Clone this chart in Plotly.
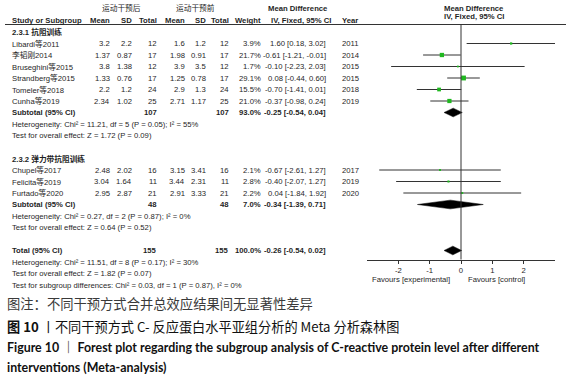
import plotly.graph_objects as go

# ---------------- data ----------------
study = ["Libardi等2011", "李韬刚2014", "Bruseghini等2015", "Strandberg等2015",
         "Tomeler等2018", "Cunha等2019", "Chupel等2017", "Felicita等2019", "Furtado等2020"]
group = [0, 0, 0, 0, 0, 0, 1, 1, 1]
exp_mean = [3.2, 1.37, 3.8, 1.33, 2.2, 2.34, 2.48, 3.04, 2.95]
exp_sd = [2.2, 0.87, 1.38, 0.76, 1.2, 1.02, 2.02, 1.64, 2.87]
exp_n = [12, 17, 12, 17, 24, 25, 16, 11, 21]
ctl_mean = [1.6, 1.98, 3.9, 1.25, 2.9, 2.71, 3.15, 3.44, 2.91]
ctl_sd = [1.2, 0.91, 3.5, 0.78, 1.3, 1.17, 3.41, 2.31, 3.33]
ctl_n = [12, 17, 12, 17, 24, 25, 16, 11, 21]
weight = [3.9, 21.7, 1.7, 29.1, 15.5, 21.0, 2.1, 2.8, 2.2]
md = [1.60, -0.61, -0.10, 0.08, -0.70, -0.37, -0.67, -0.40, 0.04]
ci_lo = [0.18, -1.21, -2.23, -0.44, -1.41, -0.98, -2.61, -2.07, -1.84]
ci_hi = [3.02, -0.01, 2.03, 0.60, 0.01, 0.24, 1.27, 1.27, 1.92]
year = [2011, 2014, 2015, 2015, 2018, 2019, 2017, 2019, 2020]

sub_names = ["2.3.1 抗阻训练", "2.3.2 弹力带抗阻训练"]
sub_n_exp = [107, 48]
sub_n_ctl = [107, 48]
sub_weight = [93.0, 7.0]
sub_md = [-0.25, -0.34]
sub_lo = [-0.54, -1.39]
sub_hi = [0.04, 0.71]
sub_het = ["Heterogeneity: Chi² = 11.21, df = 5 (P = 0.05); I² = 55%",
           "Heterogeneity: Chi² = 0.27, df = 2 (P = 0.87); I² = 0%"]
sub_test = ["Test for overall effect: Z = 1.72 (P = 0.09)",
            "Test for overall effect: Z = 0.64 (P = 0.52)"]

tot_n_exp = 155
tot_n_ctl = 155
tot_weight = 100.0
tot_md = -0.26
tot_lo = -0.54
tot_hi = 0.02
tot_het = "Heterogeneity: Chi² = 11.51, df = 8 (P = 0.17); I² = 30%"
tot_test = "Test for overall effect: Z = 1.82 (P = 0.07)"
subgroup_test = "Test for subgroup differences: Chi² = 0.03, df = 1 (P = 0.87), I² = 0%"

tick_vals = [-2, -1, 0, 1, 2]
tick_text = ["-2", "-1", "0", "1", "2"]

caption_note = "图注：不同干预方式合并总效应结果间无显著性差异"
caption_cn = "<b>图 10</b> 丨不同干预方式 C- 反应蛋白水平亚组分析的 Meta 分析森林图"
caption_en1 = "<b>Figure 10 ｜ Forest plot regarding the subgroup analysis of C-reactive protein level after different</b>"
caption_en2 = "<b>interventions (Meta-analysis)</b>"

# ---------------- layout constants ----------------
W, H = 567, 380
ROW0_PX = 32.0      # pixel centre of first table row
ROW_H = 11.5        # pixel height of a table row
FS = 7.7
FONT = "Liberation Sans, Arial, Noto Sans CJK SC, sans-serif"
TXT = "#1f1f1f"
GREEN = "#1fb81f"
LINE = "#333333"
PLOT_X0, PLOT_X1 = 367, 555
AXIS_PX = 259.5
HEADER_LINE_PX = 24.5
DIAMOND_HALF = 0.38

def row_of_px(p):
    return (p - ROW0_PX) / ROW_H

def px(x):
    return x / W

COL = dict(study=11, m1=111, sd1=133, n1=158, m2=186, sd2=207, n2=230,
           w=262, ci=327, year=341)

annotations = []

def txt(x_px, y_row, text, anchor="right", bold=False, size=FS, color=TXT):
    if bold:
        text = "<b>" + text + "</b>"
    annotations.append(dict(x=px(x_px), xref="paper", y=y_row, yref="y",
                            text=text, showarrow=False, xanchor=anchor,
                            yanchor="middle", font=dict(size=size, color=color, family=FONT),
                            borderpad=0))

fig = go.Figure()

# ---------------- header ----------------
h1 = row_of_px(8.0)
h2 = row_of_px(20.3)
txt(121, h1, "运动干预后", anchor="center")
txt(195, h1, "运动干预前", anchor="center")
txt(298, h1, "Mean Difference", anchor="center", bold=True)
txt(474, h1, "Mean Difference", anchor="center", bold=True)
txt(COL["study"], h2, "Study or Subgroup", anchor="left", bold=True)
for key, lab in [("m1", "Mean"), ("sd1", "SD"), ("n1", "Total"),
                 ("m2", "Mean"), ("sd2", "SD"), ("n2", "Total"), ("w", "Weight")]:
    txt(COL[key], h2, lab, bold=True)
txt(301, h2, "IV, Fixed, 95% CI", anchor="center", bold=True)
txt(COL["year"], h2, "Year", anchor="left", bold=True)
txt(474, row_of_px(16.5), "IV, Fixed, 95% CI", anchor="center", bold=True)

# ---------------- rows ----------------
def fmt_ci(m, lo, hi):
    return f"{m:.2f} [{lo:.2f}, {hi:.2f}]"

def diamond(r, m, lo, hi):
    fig.add_trace(go.Scatter(
        x=[lo, m, hi, m, lo], y=[r, r - DIAMOND_HALF, r, r + DIAMOND_HALF, r],
        mode="lines", fill="toself", fillcolor="black",
        line=dict(color="black", width=0.5), hoverinfo="skip", showlegend=False))

r = 0
for g in range(len(sub_names)):
    txt(COL["study"], r, sub_names[g], anchor="left", bold=True)
    r += 1
    for i in range(len(study)):
        if group[i] != g:
            continue
        txt(COL["study"], r, study[i], anchor="left")
        txt(COL["m1"], r, str(exp_mean[i]))
        txt(COL["sd1"], r, str(exp_sd[i]))
        txt(COL["n1"], r, str(exp_n[i]))
        txt(COL["m2"], r, str(ctl_mean[i]))
        txt(COL["sd2"], r, str(ctl_sd[i]))
        txt(COL["n2"], r, str(ctl_n[i]))
        txt(COL["w"], r, f"{weight[i]:.1f}%")
        txt(COL["ci"], r, fmt_ci(md[i], ci_lo[i], ci_hi[i]))
        txt(COL["year"], r, str(year[i]), anchor="left")
        fig.add_trace(go.Scatter(x=[ci_lo[i], ci_hi[i]], y=[r, r], mode="lines",
                                 line=dict(color=LINE, width=1),
                                 hoverinfo="skip", showlegend=False))
        fig.add_trace(go.Scatter(x=[md[i]], y=[r], mode="markers",
                                 marker=dict(symbol="square", color=GREEN,
                                             size=0.75 * weight[i] ** 0.5 + 0.8,
                                             line=dict(width=0)),
                                 hoverinfo="skip", showlegend=False))
        r += 1
    txt(COL["study"], r, "Subtotal (95% CI)", anchor="left", bold=True)
    txt(COL["n1"], r, str(sub_n_exp[g]), bold=True)
    txt(COL["n2"], r, str(sub_n_ctl[g]), bold=True)
    txt(COL["w"], r, f"{sub_weight[g]:.1f}%", bold=True)
    txt(COL["ci"], r, fmt_ci(sub_md[g], sub_lo[g], sub_hi[g]), bold=True)
    diamond(r, sub_md[g], sub_lo[g], sub_hi[g])
    r += 1
    txt(COL["study"], r, sub_het[g], anchor="left")
    r += 1
    txt(COL["study"], r, sub_test[g], anchor="left")
    r += 2

txt(COL["study"], r, "Total (95% CI)", anchor="left", bold=True)
txt(COL["n1"], r, str(tot_n_exp), bold=True)
txt(COL["n2"], r, str(tot_n_ctl), bold=True)
txt(COL["w"], r, f"{tot_weight:.1f}%", bold=True)
txt(COL["ci"], r, fmt_ci(tot_md, tot_lo, tot_hi), bold=True)
diamond(r, tot_md, tot_lo, tot_hi)
r += 1
txt(COL["study"], r, tot_het, anchor="left")
r += 1
txt(COL["study"], r, tot_test, anchor="left")
r += 1
txt(COL["study"], r, subgroup_test, anchor="left")

# favours labels
fav_r = row_of_px(279)
annotations.append(dict(x=-0.3, xref="x", y=fav_r, yref="y", text="Favours [experimental]",
                        showarrow=False, xanchor="right", yanchor="middle",
                        font=dict(size=FS, color=TXT, family=FONT)))
annotations.append(dict(x=0.15, xref="x", y=fav_r, yref="y", text="Favours [control]",
                        showarrow=False, xanchor="left", yanchor="middle",
                        font=dict(size=FS, color=TXT, family=FONT)))

# captions
CAP_FONT_CN = "Noto Sans CJK SC, sans-serif"
CAP_FONT_EN = "Lato, Noto Sans CJK SC, sans-serif"
for y_px, text, fam, size, color in [
        (303, caption_note, CAP_FONT_CN, 13.3, "#3a3a3a"),
        (326, caption_cn, CAP_FONT_CN, 13.2, "#111111"),
        (347, caption_en1, CAP_FONT_EN, 12.4, "#111111"),
        (367, caption_en2, CAP_FONT_EN, 12.4, "#111111")]:
    annotations.append(dict(x=px(5), xref="paper", y=1 - y_px / H, yref="paper",
                            text=text, showarrow=False, xanchor="left", yanchor="middle",
                            font=dict(size=size, color=color, family=fam)))

# ---------------- shapes ----------------
shapes = [
    dict(type="line", xref="paper", yref="y", x0=px(5), x1=px(566),
         y0=row_of_px(HEADER_LINE_PX), y1=row_of_px(HEADER_LINE_PX),
         line=dict(color=LINE, width=1)),
    dict(type="line", xref="x", yref="y", x0=0, x1=0,
         y0=row_of_px(HEADER_LINE_PX), y1=row_of_px(AXIS_PX),
         line=dict(color=LINE, width=1)),
]

fig.update_layout(
    width=W, height=H, autosize=False,
    margin=dict(l=0, r=0, t=0, b=0),
    paper_bgcolor="white", plot_bgcolor="rgba(0,0,0,0)",
    annotations=annotations, shapes=shapes,
    showlegend=False,
    font=dict(family=FONT, size=FS, color=TXT),
    xaxis=dict(domain=[PLOT_X0 / W, PLOT_X1 / W], range=[-3, 3],
               anchor="free", position=1 - AXIS_PX / H,
               tickvals=tick_vals, ticktext=tick_text,
               ticks="outside", ticklen=3, tickcolor=LINE, tickwidth=1,
               showline=True, linecolor=LINE, linewidth=1,
               showgrid=False, zeroline=False, fixedrange=True,
               tickfont=dict(size=FS, color=TXT, family=FONT)),
    yaxis=dict(domain=[0, 1], range=[row_of_px(H), row_of_px(0)],
               visible=False, fixedrange=True),
)

fig.write_html("out.html", config={"displayModeBar": False},
               post_script="document.body.style.margin='0px';document.body.style.padding='0px';document.body.style.overflow='hidden';")
